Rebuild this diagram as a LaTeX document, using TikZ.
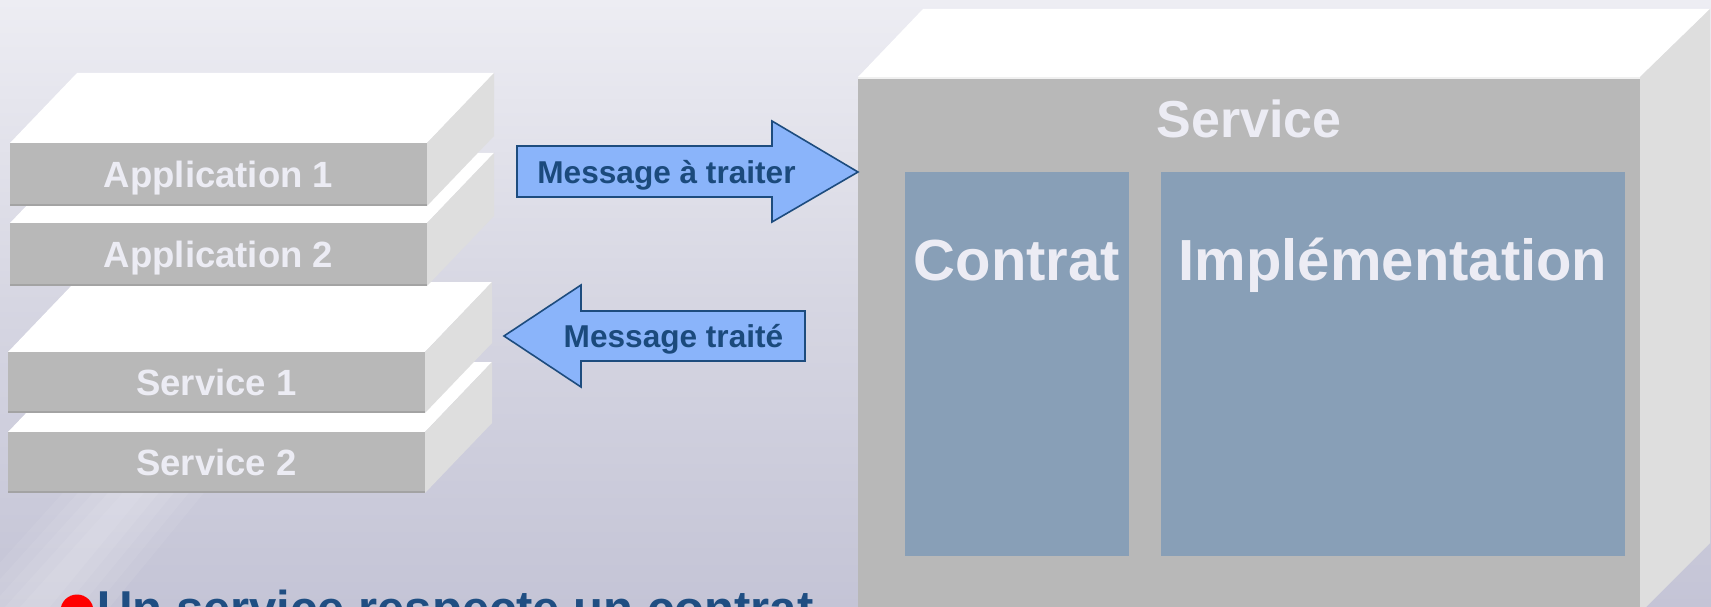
\documentclass[tikz,border=0pt]{standalone}
\usepackage{fontspec}
\setmainfont{Liberation Sans}
\definecolor{bgtop}{HTML}{EDEDF3}
\definecolor{bgmid}{HTML}{D6D6E2}
\definecolor{bgbot}{HTML}{C4C4D6}
\definecolor{frontc}{HTML}{B8B8B8}
\definecolor{frontedge}{HTML}{A3A3A3}
\definecolor{sidec}{HTML}{DEDEDE}
\definecolor{labelc}{HTML}{ECECF4}
\definecolor{arrowfill}{HTML}{8AB4FA}
\definecolor{arrowline}{HTML}{1D4C7E}
\definecolor{arrowtext}{HTML}{1B4A7C}
\definecolor{innerc}{HTML}{889FB7}
\definecolor{bullettext}{HTML}{1F4E82}
\tikzset{
  facefront/.style={fill=frontc},
  faceside/.style={fill=sidec},
  facetop/.style={fill=white},
  blocklabel/.style={font=\bfseries\fontsize{36.5}{40}\selectfont, text=labelc, anchor=base, inner sep=0pt},
  arrowshape/.style={fill=arrowfill, draw=arrowline, line width=1.6pt, line join=miter},
  arrowlabel/.style={font=\bfseries\fontsize{31.6}{36}\selectfont, text=arrowtext, anchor=base, inner sep=0pt},
  innerbox/.style={fill=innerc},
  biglabel/.style={font=\bfseries\fontsize{58}{64}\selectfont, text=labelc, anchor=base, inner sep=0pt},
  titlelabel/.style={font=\bfseries\fontsize{52}{58}\selectfont, text=labelc, anchor=base, inner sep=0pt},
  bottomlabel/.style={font=\bfseries\fontsize{49}{56}\selectfont, text=bullettext, anchor=base west, inner sep=0pt},
  streak/.style={fill=white, opacity=0.07}
}
\newcommand{\layerblock}[6]{%
  \fill[facetop] (#1,#3) -- ++(67,-70) -- ++({#2-#1},0) -- (#2,#3) -- cycle;
  \fill[faceside] (#2,#3) -- ++(67,-70) -- ++(0,{#4-#3}) -- (#2,#4) -- cycle;
  \fill[facefront] (#1,#3) rectangle (#2,#4);
  \fill[frontedge] (#1,{#4-2.5}) rectangle (#2,#4);
  \node[blocklabel] (#5) at ({(#1+#2)/2},{(#3+#4)/2+12.5}) {#6};
}
\begin{document}
\begin{tikzpicture}[x=1pt,y=-1pt]
\useasboundingbox (0,0) rectangle (1711,607);
\clip (0,0) rectangle (1711,607);
% background
\shade[top color=bgtop, bottom color=bgbot, middle color=bgmid] (0,0) rectangle (1711,607);
\foreach \w in {0,15,30,45,60} {
  \fill[streak] ({-40+\w},607) -- ({300+\w},230) -- ({420-\w},230) -- ({110-\w},607) -- cycle;
}
% left stacks
\layerblock{8}{425}{432}{493}{s2}{Service 2}
\layerblock{8}{425}{352}{413}{s1}{Service 1}
\layerblock{10}{427}{223}{286}{a2}{Application 2}
\layerblock{10}{427}{143}{206}{a1}{Application 1}
% service box
\fill[facetop] (858,77) -- (923,9) -- (1710,9) -- (1640,77) -- cycle;
\fill[faceside] (1640,77) -- (1710,9) -- (1710,543) -- (1640,613) -- cycle;
\fill[facefront] (858,77) rectangle (1640,620);
\fill[white!94!black] (858,77) rectangle (1640,79.5);
\fill[innerc] (905,172) rectangle (1129,556);
\fill[innerc] (1161,172) rectangle (1625,556);
\node[titlelabel] (svc) at (1249,138) {Service};
\node[biglabel] (contrat) at (1017,280) {Contrat};
\node[biglabel] (impl) at (1393,280) {Implémentation};
% arrows
\filldraw[arrowshape] (517,146) -- (772,146) -- (772,121) -- (858,172) -- (772,222) -- (772,197) -- (517,197) -- cycle;
\node[arrowlabel] (m1) at (666.5,183) {Message à traiter};
\filldraw[arrowshape] (805,311) -- (581,311) -- (581,285) -- (504,336) -- (581,387) -- (581,361) -- (805,361) -- cycle;
\node[arrowlabel] (m2) at (673.5,347.5) {Message traité};
% bottom text
\fill[red] (77,611) circle (16.5);
\node[bottomlabel] (bt) at (97,625) {Un service respecte un contrat};
\end{tikzpicture}
\end{document}
